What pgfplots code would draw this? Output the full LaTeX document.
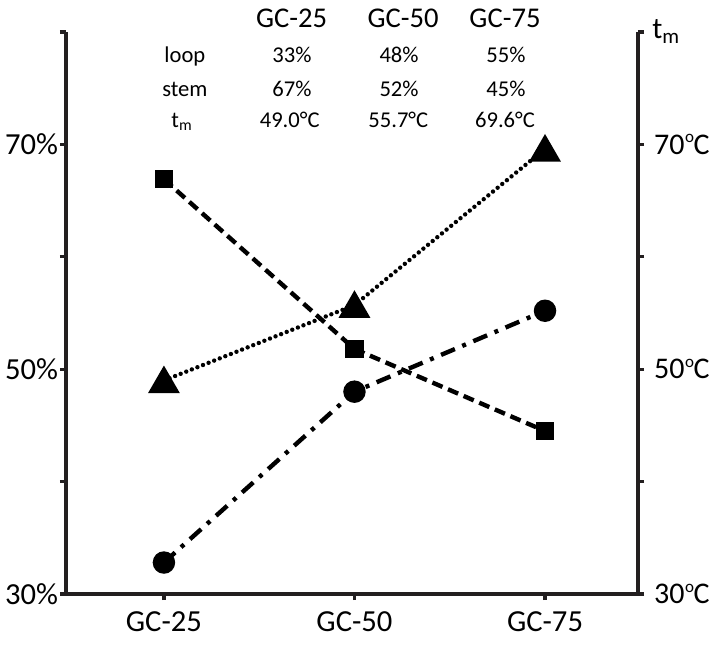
\documentclass[border=0pt]{standalone}
\usepackage{pgfplots}
\pgfplotsset{compat=1.18}
\usepackage{fontspec}
\setmainfont{Carlito}
\definecolor{axcol}{HTML}{231F20}
\newcommand{\degc}{\kern0.3pt\raisebox{0.78ex}{\fontsize{8.5}{9}\selectfont o}\kern-0.2ptC}
\begin{document}
\begin{tikzpicture}
\begin{axis}[
  name=main,
  scale only axis, width=286pt, height=281pt,
  xmin=-0.514, xmax=2.488, ymin=30, ymax=80,
  axis x line*=bottom, axis y line*=left,
  axis line style={line width=1.6pt, color=axcol, -},
  xtick={0,1,2}, xticklabels={GC-25,GC-50,GC-75},
  ytick={30,50,70}, yticklabels={30\%,50\%,70\%},
  minor ytick={40,60,80},
  tick align=outside,
  major tick length=3pt, minor tick length=3pt,
  every tick/.style={line width=1.6pt, color=axcol},
  ticklabel style={font=\fontsize{15.3}{17}\selectfont},
  xticklabel style={yshift=-2.5pt},
  yticklabel style={xshift=2.5pt},
  clip=false,
]
\addplot[black, line width=2.2pt, dash pattern=on 5.5pt off 3pt,
  mark=square*, mark size=3.5pt, mark options={solid}]
  coordinates {(0,66.9) (1,51.8) (2,44.5)};
\addplot[black, line width=2.2pt, dash pattern=on 7.5pt off 4pt on 2pt off 4pt,
  mark=*, mark size=4.5pt, mark options={solid}]
  coordinates {(0,32.8) (1,48.0) (2,55.2)};
\addplot[black, line width=2.2pt, line cap=round, dash pattern=on 0pt off 3pt,
  mark=triangle*, mark size=7pt, mark options={solid, yshift=-1.75pt}]
  coordinates {(0,49.0) (1,55.7) (2,69.6)};
% table at top
\begin{scope}[every node/.style={anchor=base, font=\fontsize{14.3}{16}\selectfont}]
\node at (axis cs:0.67,80.4) {GC-25};
\node at (axis cs:1.255,80.4) {GC-50};
\node at (axis cs:1.79,80.4) {GC-75};
\end{scope}
\begin{scope}[every node/.style={anchor=base, font=\fontsize{11.3}{13}\selectfont}]
\node at (axis cs:0.11,77.3) {loop};
\node at (axis cs:0.672,77.3) {33\%};
\node at (axis cs:1.234,77.3) {48\%};
\node at (axis cs:1.795,77.3) {55\%};
\node at (axis cs:0.11,74.3) {stem};
\node at (axis cs:0.672,74.3) {67\%};
\node at (axis cs:1.234,74.3) {52\%};
\node at (axis cs:1.795,74.3) {45\%};
\node at (axis cs:0.095,71.5) {t\textsubscript{m}};
\node at (axis cs:0.66,71.5) {49.0°C};
\node at (axis cs:1.23,71.5) {55.7°C};
\node at (axis cs:1.79,71.5) {69.6°C};
\end{scope}
\node[anchor=base west, font=\fontsize{15}{17}\selectfont, inner sep=0pt]
  at (axis cs:2.488,79.4) [xshift=7pt] {t\textsubscript{m}};
\end{axis}
\begin{axis}[
  scale only axis, width=286pt, height=281pt,
  xmin=-0.514, xmax=2.488, ymin=30, ymax=80,
  axis x line=none, axis y line*=right,
  axis line style={line width=1.6pt, color=axcol, -},
  ytick={30,50,70}, yticklabels={30\degc,50\degc,70\degc},
  minor ytick={40,60,80},
  tick align=outside,
  major tick length=3pt, minor tick length=3pt,
  every tick/.style={line width=1.6pt, color=axcol},
  ticklabel style={font=\fontsize{15}{17}\selectfont},
  yticklabel style={xshift=1.5pt},
]
\end{axis}
\pgfresetboundingbox
\path ([shift={(-33pt,-25pt)}]main.south west) rectangle ([shift={(37.5pt,16pt)}]main.north east);
\end{tikzpicture}
\end{document}
